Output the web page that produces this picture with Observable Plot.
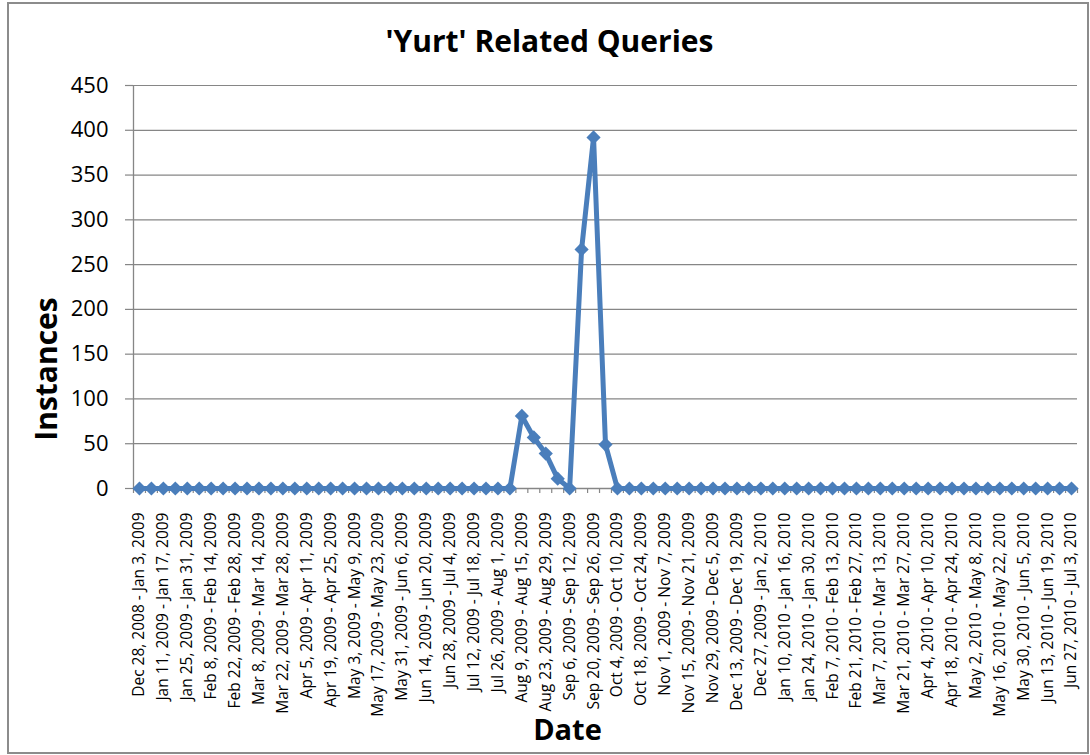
<!DOCTYPE html>
<html>
<head>
<meta charset="utf-8">
<script src="https://cdn.jsdelivr.net/npm/d3@7"></script>
<script src="https://cdn.jsdelivr.net/npm/@observablehq/plot@0.6"></script>
<style>
  body { margin: 0; background: #fff; }
  #wrap { position: relative; width: 1090px; height: 755px; background: #fff; }
  #border { position: absolute; left: 7px; top: 2px; width: 1082px; height: 752px;
            border: 2px solid #8c8c8c; box-sizing: border-box; pointer-events: none; }
</style>
</head>
<body>
<div id="wrap"><div id="chart"></div><div id="border"></div></div>
<script>
const chartTitle = "'Yurt' Related Queries";
const yTitle = "Instances";
const xTitle = "Date";

const weekLabels = [
  "Dec 28, 2008 - Jan 3, 2009", "Jan 4, 2009 - Jan 10, 2009", "Jan 11, 2009 - Jan 17, 2009",
  "Jan 18, 2009 - Jan 24, 2009", "Jan 25, 2009 - Jan 31, 2009", "Feb 1, 2009 - Feb 7, 2009",
  "Feb 8, 2009 - Feb 14, 2009", "Feb 15, 2009 - Feb 21, 2009", "Feb 22, 2009 - Feb 28, 2009",
  "Mar 1, 2009 - Mar 7, 2009", "Mar 8, 2009 - Mar 14, 2009", "Mar 15, 2009 - Mar 21, 2009",
  "Mar 22, 2009 - Mar 28, 2009", "Mar 29, 2009 - Apr 4, 2009", "Apr 5, 2009 - Apr 11, 2009",
  "Apr 12, 2009 - Apr 18, 2009", "Apr 19, 2009 - Apr 25, 2009", "Apr 26, 2009 - May 2, 2009",
  "May 3, 2009 - May 9, 2009", "May 10, 2009 - May 16, 2009", "May 17, 2009 - May 23, 2009",
  "May 24, 2009 - May 30, 2009", "May 31, 2009 - Jun 6, 2009", "Jun 7, 2009 - Jun 13, 2009",
  "Jun 14, 2009 - Jun 20, 2009", "Jun 21, 2009 - Jun 27, 2009", "Jun 28, 2009 - Jul 4, 2009",
  "Jul 5, 2009 - Jul 11, 2009", "Jul 12, 2009 - Jul 18, 2009", "Jul 19, 2009 - Jul 25, 2009",
  "Jul 26, 2009 - Aug 1, 2009", "Aug 2, 2009 - Aug 8, 2009", "Aug 9, 2009 - Aug 15, 2009",
  "Aug 16, 2009 - Aug 22, 2009", "Aug 23, 2009 - Aug 29, 2009", "Aug 30, 2009 - Sep 5, 2009",
  "Sep 6, 2009 - Sep 12, 2009", "Sep 13, 2009 - Sep 19, 2009", "Sep 20, 2009 - Sep 26, 2009",
  "Sep 27, 2009 - Oct 3, 2009", "Oct 4, 2009 - Oct 10, 2009", "Oct 11, 2009 - Oct 17, 2009",
  "Oct 18, 2009 - Oct 24, 2009", "Oct 25, 2009 - Oct 31, 2009", "Nov 1, 2009 - Nov 7, 2009",
  "Nov 8, 2009 - Nov 14, 2009", "Nov 15, 2009 - Nov 21, 2009", "Nov 22, 2009 - Nov 28, 2009",
  "Nov 29, 2009 - Dec 5, 2009", "Dec 6, 2009 - Dec 12, 2009", "Dec 13, 2009 - Dec 19, 2009",
  "Dec 20, 2009 - Dec 26, 2009", "Dec 27, 2009 - Jan 2, 2010", "Jan 3, 2010 - Jan 9, 2010",
  "Jan 10, 2010 - Jan 16, 2010", "Jan 17, 2010 - Jan 23, 2010", "Jan 24, 2010 - Jan 30, 2010",
  "Jan 31, 2010 - Feb 6, 2010", "Feb 7, 2010 - Feb 13, 2010", "Feb 14, 2010 - Feb 20, 2010",
  "Feb 21, 2010 - Feb 27, 2010", "Feb 28, 2010 - Mar 6, 2010", "Mar 7, 2010 - Mar 13, 2010",
  "Mar 14, 2010 - Mar 20, 2010", "Mar 21, 2010 - Mar 27, 2010", "Mar 28, 2010 - Apr 3, 2010",
  "Apr 4, 2010 - Apr 10, 2010", "Apr 11, 2010 - Apr 17, 2010", "Apr 18, 2010 - Apr 24, 2010",
  "Apr 25, 2010 - May 1, 2010", "May 2, 2010 - May 8, 2010", "May 9, 2010 - May 15, 2010",
  "May 16, 2010 - May 22, 2010", "May 23, 2010 - May 29, 2010", "May 30, 2010 - Jun 5, 2010",
  "Jun 6, 2010 - Jun 12, 2010", "Jun 13, 2010 - Jun 19, 2010", "Jun 20, 2010 - Jun 26, 2010",
  "Jun 27, 2010 - Jul 3, 2010"
];

const instances = [
  0, 0, 0, 0, 0, 0, 0, 0, 0, 0,
  0, 0, 0, 0, 0, 0, 0, 0, 0, 0,
  0, 0, 0, 0, 0, 0, 0, 0, 0, 0,
  0, 0, 81, 57, 39, 11, 0, 267, 392, 49,
  0, 0, 0, 0, 0, 0, 0, 0, 0, 0,
  0, 0, 0, 0, 0, 0, 0, 0, 0, 0,
  0, 0, 0, 0, 0, 0, 0, 0, 0, 0,
  0, 0, 0, 0, 0, 0, 0, 0, 0
];

const yTicks = [0, 50, 100, 150, 200, 250, 300, 350, 400, 450];

const FONT = "'Open Sans', sans-serif";
const BLUE = "#4A7EBB";
const GRAY = "#868686";

const data = instances.map((v, i) => ({ i, v, label: weekLabels[i] }));
const n = weekLabels.length;
const labelIdx = d3.range(0, n, 2);
const boundaries = d3.range(-0.5, n, 1);

const chart = Plot.plot({
  width: 1090,
  height: 755,
  marginLeft: 133,
  marginRight: 13,
  marginTop: 85,
  marginBottom: 267,
  style: { fontFamily: FONT, background: "transparent", color: "#000", overflow: "visible" },
  x: { type: "linear", domain: [-0.5, n - 0.5] },
  y: { domain: [0, 450] },
  marks: [
    Plot.gridY(yTicks, { stroke: GRAY, strokeOpacity: 1, strokeWidth: 1.2 }),
    Plot.axisY(yTicks, { tickSize: 8, tickPadding: 17, fontSize: 22, label: null,
      stroke: GRAY, strokeOpacity: 1, strokeWidth: 1.2, fill: "#000" }),
    Plot.ruleX([-0.5], { stroke: GRAY, strokeWidth: 1.3 }),
    Plot.ruleY([0], { stroke: GRAY, strokeWidth: 1.3 }),
    Plot.axisX(boundaries, { tickSize: 5, tickFormat: () => "", label: null,
      stroke: GRAY, strokeOpacity: 1, strokeWidth: 1.2 }),
    Plot.axisX(labelIdx, { tickSize: 0, tickPadding: 24, tickRotate: -90,
      tickFormat: (i) => weekLabels[i], fontSize: 15.5, label: null, fill: "#000" }),
    Plot.line(data, { x: "i", y: "v", stroke: BLUE, strokeWidth: 5, strokeLinejoin: "round" }),
    Plot.dot(data, { x: "i", y: "v", symbol: "diamond2", r: 6.4, fill: BLUE, stroke: null }),
    Plot.text([chartTitle], { text: (d) => d, frameAnchor: "top", dx: -56, dy: -43,
      fontSize: 30, fontWeight: "bold", fill: "#000", lineAnchor: "middle", textAnchor: "middle" }),
    Plot.text([yTitle], { text: (d) => d, frameAnchor: "left", dx: -86, dy: 82, rotate: -90,
      fontSize: 30, fontWeight: "bold", fill: "#000", lineAnchor: "middle", textAnchor: "middle" }),
    Plot.text([xTitle], { text: (d) => d, frameAnchor: "bottom", dx: -38, dy: 242,
      fontSize: 29, fontWeight: "bold", fill: "#000", lineAnchor: "middle", textAnchor: "middle" })
  ]
});

document.getElementById("chart").appendChild(chart);
</script>
</body>
</html>
